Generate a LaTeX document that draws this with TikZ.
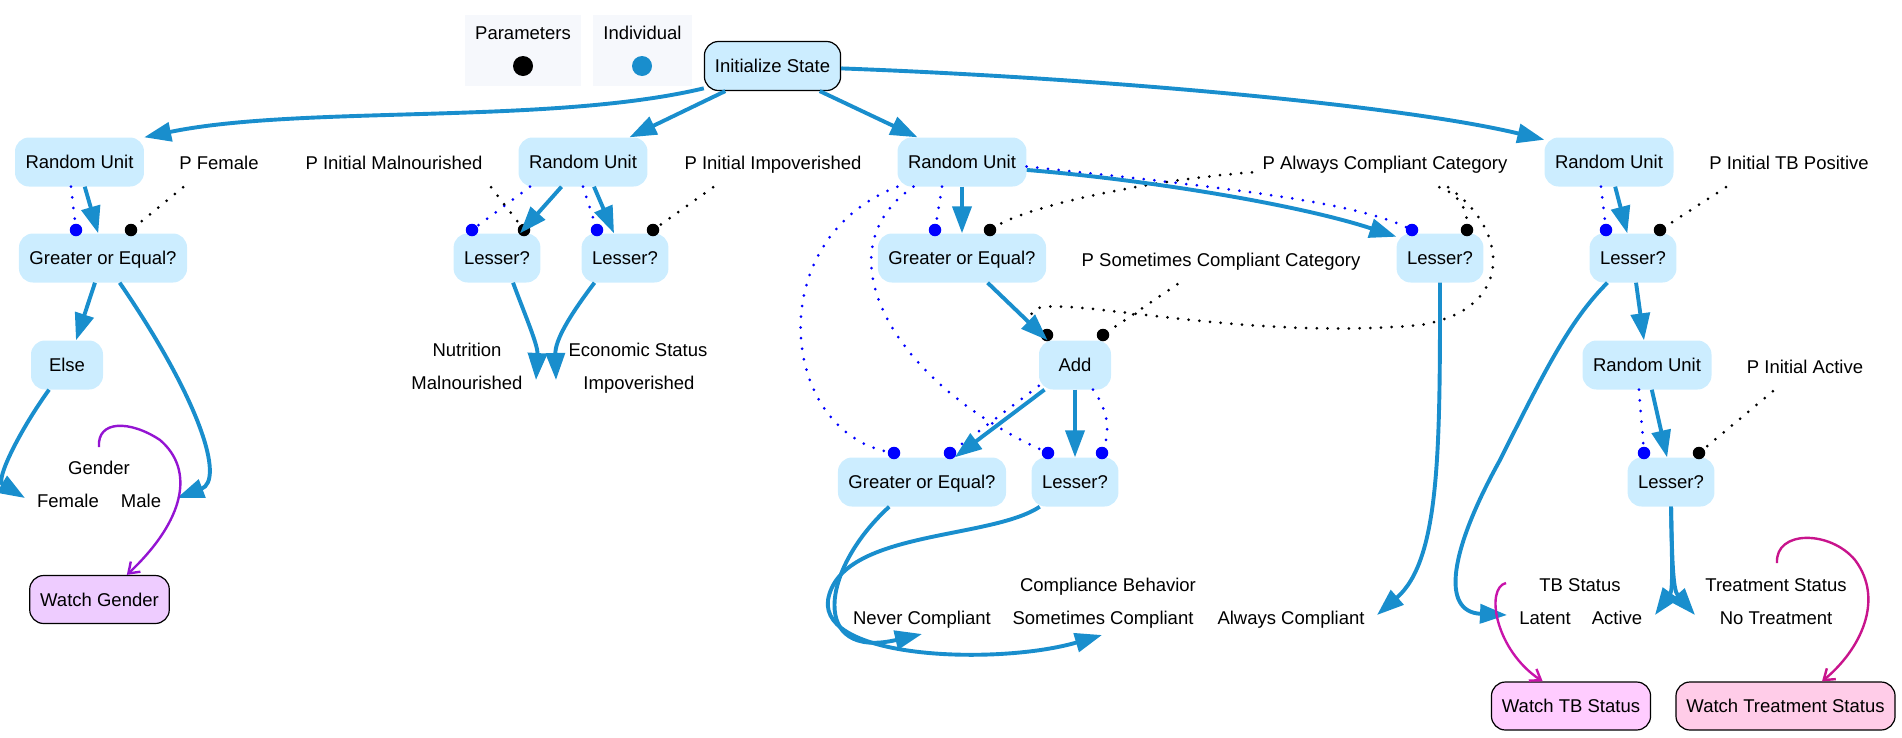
\documentclass[tikz,border=0pt]{standalone}
\usepackage{fontspec}
\setmainfont{Liberation Sans}
\usetikzlibrary{arrows.meta,calc}
\definecolor{nodefill}{RGB}{204,237,255}
\definecolor{edgeblue}{RGB}{25,142,205}
\definecolor{indblue}{RGB}{0,0,255}
\definecolor{legfill}{RGB}{246,248,252}
\definecolor{wgfill}{RGB}{238,204,255}
\definecolor{wtbfill}{RGB}{255,204,255}
\definecolor{wtrfill}{RGB}{255,204,232}
\definecolor{gpurple}{RGB}{148,20,210}
\definecolor{tbmag}{RGB}{200,20,170}
\definecolor{trmag}{RGB}{200,20,140}
\begin{document}
\begin{tikzpicture}[x=1pt,y=-1pt,
  tx/.style={font=\fontsize{18.5}{22}\selectfont, text height=15.5pt, text depth=2pt},
  op/.style={tx, rectangle, rounded corners=14pt, fill=nodefill, minimum height=49pt, minimum width=72pt, inner xsep=10.5pt, inner ysep=0pt},
  opb/.style={op, draw=black, line width=1.2pt},
  watch/.style={tx, rectangle, rounded corners=14pt, draw=black, line width=1.2pt, minimum height=48pt, inner xsep=10.5pt, inner ysep=0pt},
  lbl/.style={tx, rectangle, minimum height=48pt, inner xsep=10.5pt, inner ysep=0pt},
  txt/.style={tx, inner sep=0pt},
  legbox/.style={rectangle, fill=legfill, inner sep=0pt},
  pdot/.style={circle, fill=black, inner sep=0pt, minimum size=12.5pt},
  idot/.style={circle, fill=indblue, inner sep=0pt, minimum size=12.5pt},
  ebl/.style={draw=edgeblue, line width=3.9pt, -{Triangle[length=27pt,width=19pt]}},
  idl/.style={draw=indblue, line width=3pt, line cap=round, dash pattern=on 0pt off 10.7pt},
  pdl/.style={draw=black, line width=3pt, line cap=round, dash pattern=on 0pt off 10.7pt},
  wl/.style={line width=2.4pt, -{Straight Barb[length=10pt,width=14pt]}}]
\useasboundingbox (0,0) rectangle (1902,737);

% legend
\node[legbox, minimum width=116pt, minimum height=71pt] (legp) at (523,50.5) {};
\node[txt] (legpt) at (523,33) {Parameters};
\node[pdot, minimum size=20pt] (legpd) at (523,66) {};
\node[legbox, minimum width=99pt, minimum height=71pt] (legi) at (642.5,50.5) {};
\node[txt] (legit) at (642.5,33) {Individual};
\node[circle, fill=edgeblue, inner sep=0pt, minimum size=20pt] (legid) at (642,66) {};

% nodes
\node[opb] (init) at (772.5,66) {Initialize State};
\node[op] (ru1) at (79.5,162) {Random Unit};
\node[lbl] (pfem) at (219,163) {P Female};
\node[lbl] (pmal) at (394,163) {P Initial Malnourished};
\node[op] (ru2) at (583,162) {Random Unit};
\node[lbl] (pimp) at (773,163) {P Initial Impoverished};
\node[op] (ru3) at (962,162) {Random Unit};
\node[lbl] (palw) at (1385,163) {P Always Compliant Category};
\node[op] (ru4) at (1609,162) {Random Unit};
\node[lbl] (ptbp) at (1789,163) {P Initial TB Positive};
\node[op] (geo1) at (103,258) {Greater or Equal?};
\node[op] (lesa) at (497,258) {Lesser?};
\node[op] (lesb) at (625,258) {Lesser?};
\node[op] (geo2) at (962,258) {Greater or Equal?};
\node[lbl] (psom) at (1221,260) {P Sometimes Compliant Category};
\node[op] (lesc) at (1440,258) {Lesser?};
\node[op] (lesd) at (1633,258) {Lesser?};
\node[op] (else) at (67,365) {Else};
\node[op] (add) at (1075,365) {Add};
\node[op] (ru5) at (1647,365) {Random Unit};
\node[lbl] (pact) at (1805,367) {P Initial Active};
\node[op] (geo3) at (922,482) {Greater or Equal?};
\node[op] (lese) at (1075,482) {Lesser?};
\node[op] (lesf) at (1671,482) {Lesser?};

% state tables
\node[txt] (nutr) at (467,350) {Nutrition};
\node[txt] (maln) at (467,383) {Malnourished};
\node[txt] (econ) at (638,350) {Economic Status};
\node[txt] (impov) at (639,383) {Impoverished};
\node[txt] (gend) at (99,468) {Gender};
\node[txt] (fem) at (68,501) {Female};
\node[txt] (male) at (141,501) {Male};
\node[txt] (comp) at (1108,585) {Compliance Behavior};
\node[txt] (never) at (922,618) {Never Compliant};
\node[txt] (somet) at (1103,618) {Sometimes Compliant};
\node[txt] (alw) at (1291,618) {Always Compliant};
\node[txt] (tbs) at (1580,585) {TB Status};
\node[txt] (lat) at (1545,618) {Latent};
\node[txt] (act) at (1617,618) {Active};
\node[txt] (trs) at (1776,585) {Treatment Status};
\node[txt] (notr) at (1776,618) {No Treatment};

% watchers
\node[watch, fill=wgfill] (wg) at (99.5,599.5) {Watch Gender};
\node[watch, fill=wtbfill] (wtb) at (1571,706) {Watch TB Status};
\node[watch, fill=wtrfill] (wtr) at (1785.5,706) {Watch Treatment Status};

% ports
\coordinate (malnp) at (536,380);
\coordinate (impovp) at (556,380);
\coordinate (femp) at (25,498);
\coordinate (malep) at (177,498);
\coordinate (genp) at (99,447);
\coordinate (neverp) at (922,634);
\coordinate (somep) at (1102,635);
\coordinate (alwp) at (1377,615);
\coordinate (latp) at (1507,615);
\coordinate (actp) at (1655,615);
\coordinate (notrp) at (1695,615);
\coordinate (tbp) at (1506,583);
\coordinate (trp) at (1777,563);

% dots
\node[pdot] (geo1p) at (131,230) {}; \node[idot] (geo1i) at (76,230) {};
\node[idot] (lesai) at (472,230) {}; \node[pdot] (lesap) at (524,230) {};
\node[idot] (lesbi) at (597,230) {}; \node[pdot] (lesbp) at (653,230) {};
\node[idot] (geo2i) at (935,230) {}; \node[pdot] (geo2p) at (990,230) {};
\node[idot] (lesci) at (1412,230) {}; \node[pdot] (lescp) at (1467,230) {};
\node[idot] (lesdi) at (1606,230) {}; \node[pdot] (lesdp) at (1660,230) {};
\node[pdot] (addp1) at (1047,335) {}; \node[pdot] (addp2) at (1103,335) {};
\node[idot] (geo3i1) at (894,453) {}; \node[idot] (geo3i2) at (950,453) {};
\node[idot] (lesei1) at (1048,453) {}; \node[idot] (lesei2) at (1102,453) {};
\node[idot] (lesfi) at (1644,453) {}; \node[pdot] (lesfp) at (1699,453) {};

% individual-flow dotted edges
\draw[idl] (ru1.-109) -- (geo1i);
\draw[idl] (ru2.205) -- (lesai);
\draw[idl] (ru2.south) -- (lesbi);
\draw[idl] (ru3.231) -- (geo2i);
\draw[idl] (ru3.-4) .. controls (1200,185) and (1350,200) .. (lesci);
\draw[idl] (ru3.south west) .. controls (760,240) and (780,430) .. (geo3i1);
\draw[idl] (ru3.207) .. controls (820,250) and (890,380) .. (lesei1);
\draw[idl] (ru4.252) -- (lesdi);
\draw[idl] (add.210) -- (geo3i2);
\draw[idl] (add.-54) .. controls (1108,410) and (1110,430) .. (lesei2);
\draw[idl] (ru5.252) -- (lesfi);

% parameter dotted edges
\draw[pdl] (pfem.214) -- (geo1p);
\draw[pdl] (pmal.-14.3) -- (lesap);
\draw[pdl] (pimp.202) -- (lesbp);
\draw[pdl] (palw.184) .. controls (1150,180) and (1030,205) .. (geo2p);
\draw[pdl] (palw.-24.4) .. controls (1460,195) and (1467,210) .. (lescp);
\draw[pdl] (palw.-21.5) .. controls (1510,230) and (1515,310) .. (1420,325) .. controls (1200,345) and (980,270) .. (addp1);
\draw[pdl] (psom.209) -- (addp2);
\draw[pdl] (ptbp.201.5) -- (lesdp);
\draw[pdl] (pact.217) -- (lesfp);

% control-flow edges
\draw[ebl] (init.198) .. controls (550,125) and (300,105) .. (ru1.north east);
\draw[ebl] (init.208) -- (ru2.28.5);
\draw[ebl] (init.-28) -- (ru3.151.5);
\draw[ebl] (init.-2) .. controls (1100,78) and (1400,105) .. (ru4.161);
\draw[ebl] (ru1.-78) -- (geo1.101);
\draw[ebl] (ru2.229) -- (lesa.47);
\draw[ebl] (ru2.-66) -- (lesb.114);
\draw[ebl] (lesa.-57) .. controls (525,315) and (538,345) .. (malnp);
\draw[ebl] (lesb.219) .. controls (570,315) and (555,340) .. (impovp);
\draw[ebl] (geo1.-108) -- (else.70);
\draw[ebl] (geo1.-56) .. controls (200,400) and (225,480) .. (malep);
\draw[ebl] (else.234) .. controls (20,430) and (-5,480) .. (femp);
\draw[ebl] (ru3.south) -- (geo2.north);
\draw[ebl] (ru3.-7) .. controls (1150,180) and (1300,205) .. (lesc.154);
\draw[ebl] (geo2.-44) -- (add.138);
\draw[ebl] (add.219) -- (geo3.37);
\draw[ebl] (add.south) -- (lese.north);
\draw[ebl] (lesc.south) .. controls (1440,450) and (1440,560) .. (alwp);
\draw[ebl] (geo3.217) .. controls (820,570) and (810,660) .. (neverp);
\draw[ebl] (lese.215) .. controls (990,540) and (840,530) .. (828,600) .. controls (820,660) and (1000,665) .. (somep);
\draw[ebl] (ru4.-76.5) -- (lesd.103.5);
\draw[ebl] (lesd.-83) -- (ru5.97);
\draw[ebl] (ru5.-79) -- (lesf.99);
\draw[ebl] (lesd.224) .. controls (1570,320) and (1545,370) .. (1500,460) .. controls (1450,550) and (1440,612) .. (latp);
\draw[ebl] (lesf.south) .. controls (1672,560) and (1673,590) .. (actp);
\draw[ebl] (lesf.south) .. controls (1672,560) and (1673,590) .. (notrp);

% watcher edges
\draw[wl, gpurple] (genp) .. controls (97,420) and (130,420) .. (160,440) .. controls (195,470) and (185,520) .. (wg.42);
\draw[wl, tbmag] (tbp) .. controls (1485,588) and (1495,650) .. (wtb.139);
\draw[wl, trmag] (trp) .. controls (1775,530) and (1830,530) .. (1855,560) .. controls (1885,600) and (1860,650) .. (wtr.34);
\end{tikzpicture}
\end{document}
